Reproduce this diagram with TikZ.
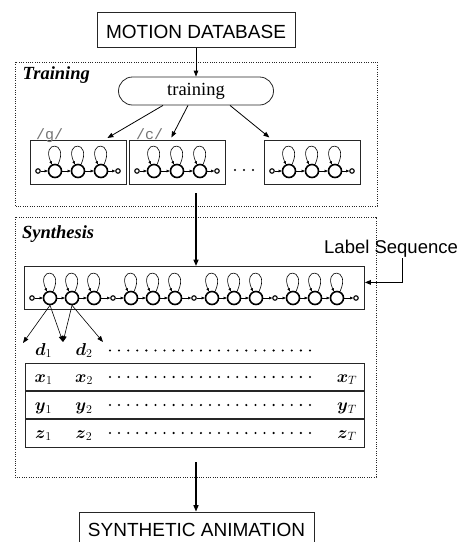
\documentclass[tikz,border=0pt]{standalone}
\usepackage{amsmath}
\usepackage{fontspec}
\setmainfont{Liberation Serif}
\setsansfont{Liberation Sans}
\setmonofont{Liberation Mono}
\usetikzlibrary{arrows.meta,calc}
\begin{document}
\begin{tikzpicture}[x=1pt,y=-1pt,
  box/.style={draw=black!85,line width=0.8pt,inner sep=0pt},
  sansbox/.style={box,font=\sffamily\fontsize{19}{22}\selectfont},
  grp/.style={draw=black!85,line width=0.9pt,dash pattern=on 1pt off 1.3pt},
  grplbl/.style={font=\bfseries\itshape\fontsize{18.5}{22}\selectfont,anchor=base west,inner sep=0pt},
  arr/.style={-{Triangle[length=6pt,width=4.5pt]},line width=0.8pt},
  thickarr/.style={-{Triangle[length=6.5pt,width=5pt]},line width=1.4pt},
  bigst/.style={circle,draw,line width=1.6pt,minimum size=13pt,inner sep=0pt},
  smallst/.style={circle,draw,line width=1.1pt,minimum size=4.5pt,inner sep=0pt},
  trans/.style={-{Triangle[length=3pt,width=2.6pt]},line width=0.5pt},
  selfloop/.style={-{Triangle[length=3pt,width=2.6pt]},line width=0.6pt},
  mathlbl/.style={font=\fontsize{18}{20}\selectfont,inner sep=0pt,anchor=base},
  dotrow/.style={line width=2.3pt,line cap=round,dash pattern=on 0pt off 9.09pt},
  phon/.style={font=\ttfamily\fontsize{15}{16}\selectfont,text=black!55,anchor=base west,inner sep=0pt}
]
\useasboundingbox (0,0) rectangle (462,542);
\clip (0,0) rectangle (462,542);

% top box
\node[sansbox,minimum width=198pt,minimum height=35pt,text height=17pt,text depth=0pt] (db) at (196,29.8) {MOTION DATABASE};

% training group
\draw[grp] (15,62) rectangle (377,206);
\node[grplbl] (trlbl) at (22.5,79) {Training};
\node[box,rounded corners=14pt,minimum width=155pt,minimum height=28pt,font=\fontsize{18.5}{22}\selectfont] (tr) at (196,91) {training};
\draw[arr] (db.south) -- (tr.north);

% small HMMs
\foreach \b/\L in {1/30,2/129,3/264}{
  \node[box,minimum width=96pt,minimum height=44pt,anchor=north west] (h\b) at (\L,140) {};
  \node[smallst] (h\b s0) at (\L+8,171) {};
  \node[bigst] (h\b c1) at (\L+25,171) {};
  \node[bigst] (h\b c2) at (\L+48,171) {};
  \node[bigst] (h\b c3) at (\L+71,171) {};
  \node[smallst] (h\b s1) at (\L+88,171) {};
  \draw[trans] (h\b s0) -- (h\b c1);
  \draw[trans] (h\b c1) -- (h\b c2);
  \draw[trans] (h\b c2) -- (h\b c3);
  \draw[trans] (h\b c3) -- (h\b s1);
  \foreach \i in {1,2,3}{
    \draw[selfloop] (h\b c\i.65) .. controls +(11,-24) and +(-11,-24) .. (h\b c\i.115);
  }
}
\node[phon] (lg) at (36,139) {/g/};
\node[phon] (lc) at (136,139) {/c/};
\draw[dotrow,dash pattern=on 0pt off 9pt] (235,170) -- (253.2,170);
\draw[arr] ([xshift=-33pt]tr.south) -- ([xshift=29pt,yshift=2pt]h1.north);
\draw[arr] ([xshift=-8pt]tr.south) -- ([xshift=-6pt,yshift=2.5pt]h2.north);
\draw[arr] ([xshift=34pt]tr.south) -- ([xshift=-43pt,yshift=2.5pt]h3.north);

% synthesis group
\draw[grp] (15,217) rectangle (376,477);
\node[grplbl] (sylbl) at (22,238) {Synthesis};

\node[box,minimum width=340pt,minimum height=43pt,anchor=north west] (seq) at (24,266) {};
\foreach \k in {0,...,4}{
  \node[smallst] (q\k) at (32+81*\k,298) {};
}
\foreach \k in {0,...,3}{
  \pgfmathtruncatemacro{\kn}{\k+1}
  \node[bigst] (b\k1) at (32+81*\k+18,298) {};
  \node[bigst] (b\k2) at (32+81*\k+40,298) {};
  \node[bigst] (b\k3) at (32+81*\k+62,298) {};
  \draw[trans] (q\k) -- (b\k1);
  \draw[trans] (b\k1) -- (b\k2);
  \draw[trans] (b\k2) -- (b\k3);
  \draw[trans] (b\k3) -- (q\kn);
  \foreach \i in {1,2,3}{
    \draw[selfloop] (b\k\i.65) .. controls +(11,-24) and +(-11,-24) .. (b\k\i.115);
  }
}

\coordinate (t0) at (196,193);
\draw[thickarr] (t0) -- (t0 |- seq.north);

\node[font=\sffamily\fontsize{18.5}{22}\selectfont,anchor=base west,inner sep=1pt] (ls) at (323,253) {Label Sequence};
\draw[-{Triangle[length=6pt,width=4.5pt]},line width=1.2pt] ([xshift=11.5pt]ls.south) |- ([yshift=5.5pt]seq.east);

% duration arrows
\coordinate (e1) at (23,343);
\coordinate (e2) at (63,342);
\coordinate (e3) at (103,342);
\draw[arr,line width=0.6pt] (b01.south) -- (e1);
\draw[arr,line width=0.6pt] (b01.south) -- (e2);
\draw[arr,line width=0.6pt] (b02.south) -- (e2);
\draw[arr,line width=0.6pt] (b02.south) -- (e3);

\node[mathlbl] (d1) at (43.5,355) {$\boldsymbol{d}_1$};
\node[mathlbl] (d2) at (84,355) {$\boldsymbol{d}_2$};
\draw[dotrow] (110,350.5) -- (310.2,350.5);

% table
\node[draw=black!85,line width=1.1pt,minimum width=339pt,minimum height=84pt,anchor=north west,inner sep=0pt] (tab) at (25,363) {};
\draw[line width=1.1pt,draw=black!85] (25,391) -- (364,391);
\draw[line width=1.1pt,draw=black!85] (25,419) -- (364,419);
\foreach \v/\yb in {x/382,y/410,z/438}{
  \node[mathlbl] (\v1) at (43.5,\yb) {$\boldsymbol{\v}_1$};
  \node[mathlbl] (\v2) at (84,\yb) {$\boldsymbol{\v}_2$};
  \node[mathlbl] (\v T) at (347,\yb) {$\boldsymbol{\v}_T$};
  \draw[dotrow] (110,\yb-5) -- (310.2,\yb-5);
}

% output
\node[sansbox,minimum width=235pt,minimum height=36pt] (anim) at (196.5,530) {SYNTHETIC ANIMATION};
\coordinate (s0) at (196,462);
\draw[thickarr] (s0) -- (s0 |- anim.north);
\end{tikzpicture}
\end{document}
